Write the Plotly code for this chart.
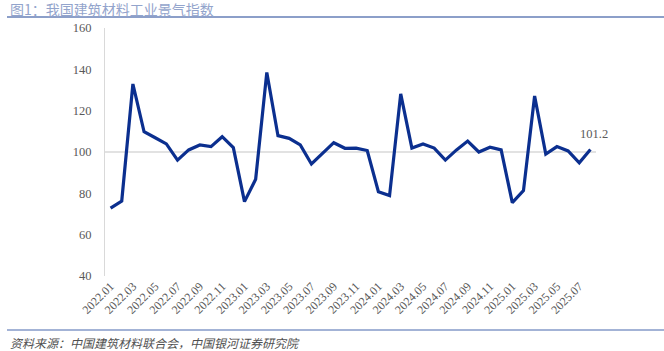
import plotly.graph_objects as go

months = [f"{y}.{m:02d}" for y in range(2022, 2026) for m in range(1, 13)][:44]
values = [72.8, 76.3, 132.9, 109.8, 106.9, 103.9, 96.1, 101.0, 103.4, 102.6, 107.4, 102.1,
          76.0, 86.8, 138.5, 107.9, 106.6, 103.4, 94.2, 99.4, 104.5, 101.8, 101.9, 100.7,
          80.8, 78.9, 128.1, 101.9, 103.9, 101.9, 96.1, 101.0, 105.3, 100.0, 102.3, 101.0,
          75.5, 81.3, 127.1, 99.0, 102.6, 100.5, 94.8, 101.2]
tick_labels = months[::2]
y_ticks = [40, 60, 80, 100, 120, 140, 160]

title_text = "图1：我国建筑材料工业景气指数"
source_text = "资料来源：中国建筑材料联合会，中国银河证券研究院"

W, H = 664, 351
L, R, T, B = 105, 68, 28, 75
pw, ph = W - L - R, H - T - B

def px_x(px):
    return (px - L) / pw

def px_y(py):
    return (H - B - py) / ph

serif = "Liberation Serif, Times New Roman, serif"
cjk = "Noto Sans CJK SC, sans-serif"

fig = go.Figure()
fig.add_trace(go.Scatter(
    x=months, y=values, mode="lines",
    line=dict(color="#0b2f8f", width=3.2),
    hoverinfo="skip", showlegend=False,
))

fig.update_layout(
    width=W, height=H,
    margin=dict(l=L, r=R, t=T, b=B),
    paper_bgcolor="white", plot_bgcolor="white",
    xaxis=dict(
        type="category", range=[-0.5, 43.5],
        tickmode="array", tickvals=tick_labels, ticktext=tick_labels,
        tickangle=-45, showgrid=False, zeroline=False, showline=False,
        ticks="", tickfont=dict(family=serif, size=12, color="#595959"),
    ),
    yaxis=dict(
        range=[40, 160], tickvals=y_ticks, showgrid=False, zeroline=False,
        showline=True, linecolor="#d9d9d9", linewidth=1, ticks="",
        ticklabelstandoff=10,
        tickfont=dict(family=serif, size=12.5, color="#595959"),
    ),
    shapes=[
        dict(type="line", xref="paper", yref="y", x0=0, x1=1, y0=100, y1=100,
             line=dict(color="#d9d9d9", width=1.5), layer="below"),
        dict(type="line", xref="paper", yref="paper", x0=px_x(7), x1=px_x(664),
             y0=px_y(17), y1=px_y(17), line=dict(color="#8c9fc9", width=2)),
        dict(type="line", xref="paper", yref="paper", x0=px_x(7), x1=px_x(664),
             y0=px_y(330), y1=px_y(330), line=dict(color="#a3b3d6", width=2)),
    ],
    annotations=[
        dict(text=title_text, xref="paper", yref="paper", x=px_x(8), y=px_y(8.5),
             xanchor="left", yanchor="middle", showarrow=False,
             font=dict(family=cjk, size=14, color="#93a4cc")),
        dict(text="<i>" + source_text + "</i>", xref="paper", yref="paper",
             x=px_x(8), y=px_y(342), xanchor="left", yanchor="middle", showarrow=False,
             font=dict(family=cjk, size=12, color="#505050")),
        dict(text=f"{values[-1]:.1f}", xref="x", yref="y",
             x=len(values) - 1, y=values[-1], showarrow=False,
             xshift=4, yshift=16,
             font=dict(family=serif, size=12.5, color="#595959")),
    ],
)

fig.write_html("out.html")
